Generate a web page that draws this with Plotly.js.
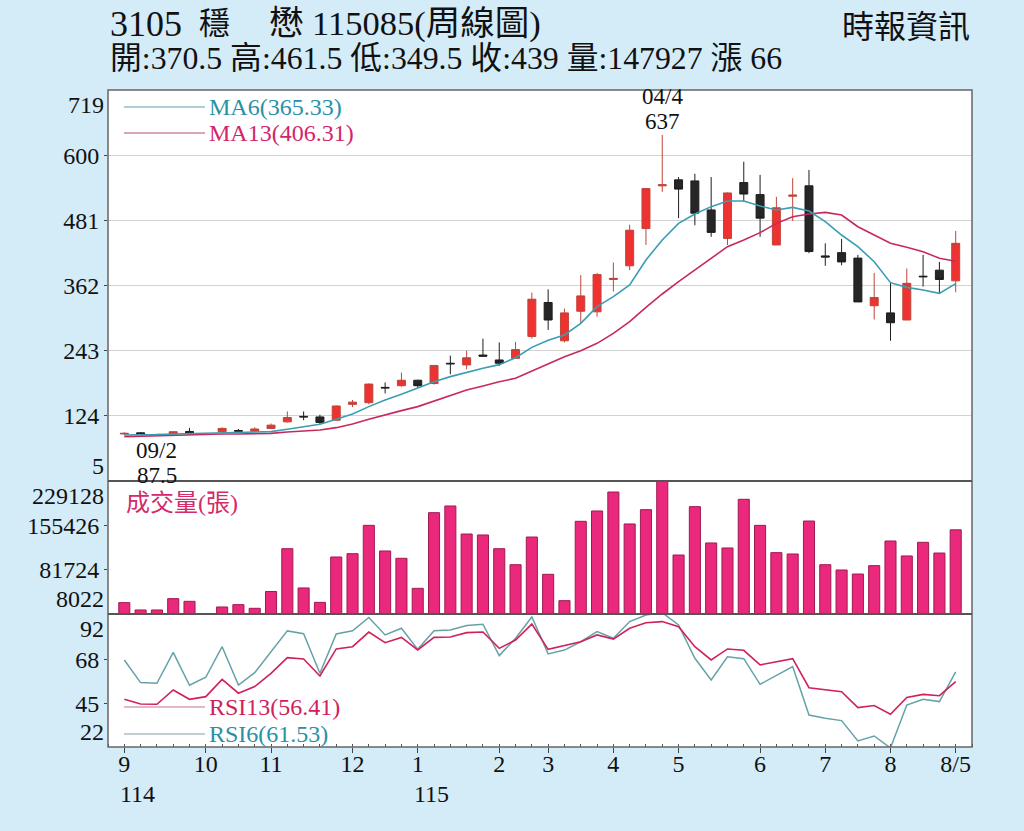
<!DOCTYPE html>
<html>
<head>
<meta charset="utf-8">
<script src="https://cdn.plot.ly/plotly-3.0.1.min.js"></script>
<style>
  html, body { margin: 0; padding: 0; background: #d4ebf8; }
  #chart { width: 1024px; height: 831px; }
</style>
</head>
<body>
<div id="chart"></div>
<script>
// ---------- header texts ----------
const titleCode = "3105";
const titleName1 = "穩";
const titleName2 = "懋 115085(周線圖)";
const titleQuote = "開:370.5 高:461.5 低:349.5 收:439 量:147927 漲 66";
const sourceText = "時報資訊";

// ---------- weekly OHLC (index 0 = first week of 114/9) ----------
const openP  = [91,93,90,91,95.5,null,95,97,96,101,113,123,122,116,145,148,176,179,189,183,220,217,235,226,229,269,331,261,315,314,373,398,466,544,555,553,500,448,550,528,436,525,544,416,422,412,325,312,299,379,390,370.5];
const highP  = [94,94,91,96,102,null,103,100,103,110,132,132,126,143,153,183,185,203,190,217,234,243,265,258,259,349,355,320,381,385,404,473,540,637,560,566,560,532,588,564,524,558,573,439,447,418,385,367,393,418,405,461.5];
const lowP   = [89,89,87.5,90,90,null,94,94,95,100,112,116,109,115,140,145,165,177,175,181,200,209,232,215,228,265,281,258,293,305,351,390,436,533,485,472,451,436,515,451,436,480,421,398,399,332,300,261,299,360,348,349.5];
const closeP = [92,90,89.5,95,91.5,null,101,96,100,107,121,122,112,142,149,182,175,189,179,216,219,230,233,220,245,337,299,312,343,382,375,463,539,546,538,494,459,531,529,485,504,527,424,414,405,332,340,294,366,378,373,439];

// ---------- moving averages ----------
const ma6  = [89,89,89.6,90.9,91.5,92,92.7,92.7,93.3,95.1,99.4,104.3,108.5,117.6,127.4,140.8,153,163.3,174.3,186.4,195.6,203.5,210.8,217.5,230,249,262,271.6,293,323.4,341.6,362.9,408.6,445.1,475.5,492.6,506,516.3,516.3,507.2,499.9,504.7,498,478.6,454.2,432.9,405.5,367.2,358.6,353.8,347.7,365.33];
const ma13 = [86,87,87.8,88.4,89.6,90.2,90.9,90.9,91.5,92,94.5,96.3,98.2,102.4,109.1,117.6,126.2,133.5,140.8,151.1,162.1,171.2,178.5,186.4,192.5,206,220,232,243,256.4,274.6,296,322.1,346.5,369,390.3,411.6,432.9,445.1,458.5,475.5,487.7,492.6,495.6,490.7,469.4,454.2,439,431.7,423.8,411.6,406.31];

// ---------- volume (張) ----------
const volume = [26900,14700,14700,33500,29100,0,19700,23600,17500,45400,116600,51300,27400,102800,108300,155400,112800,100600,50700,176500,187600,141000,139400,116600,90000,136000,74000,30200,162100,179300,210800,157700,181500,229128,106100,186500,126100,117800,198700,155400,110000,107800,162600,90000,81200,74500,88400,129400,104500,127200,109400,147927];

// ---------- RSI ----------
const rsi6  = [67.8,55.9,55.5,71.8,54.5,58.7,74.8,54.6,61.1,72.2,83.1,81.6,60.8,81.5,83.2,90.2,81,84.5,73.4,83.2,83.6,85.9,86.6,70.1,79.2,90.4,71,73,77.4,82.7,79.2,88,91.5,92.7,86.2,68.7,57.3,69.5,68.5,55,59.7,64.3,38.8,37.1,35.9,25.2,27.8,21.5,44.1,47.1,45.9,61.53];
const rsi13 = [47.1,44.6,44.5,52,47.1,48.5,57.6,50.3,53.8,60.8,69,68.3,59.4,73.6,74.8,82.5,76.9,79.7,73.1,79.7,79.9,82.2,82.5,73.9,78.3,86.7,73.4,75.2,77.4,81,78.8,84.5,87.4,88,85.3,74.8,67.8,73.6,72.9,65.2,66.9,68.5,53.2,52,51.1,42.7,43.8,39.2,48.1,49.7,49,56.41];

// ---------- axis labels ----------
const monthTickIdx = [0,5,9,14,18,23,26,30,34,39,43,47,51];
const monthLabels  = ["9","10","11","12","1","2","3","4","5","6","7","8","8/5"];
const yearLabels   = [{idx:0, text:"114"}, {idx:18, text:"115"}];
const priceTicks  = [719,600,481,362,243,124,5];
const volumeTicks = [229128,155426,81724,8022];
const rsiTicks    = [92,68,45,22];

// ---------- legend texts & markers ----------
const maLegend  = ["MA6(365.33)","MA13(406.31)"];
const rsiLegend = ["RSI13(56.41)","RSI6(61.53)"];
const volTitle  = "成交量(張)";
const highMark = {idx:33, date:"04/4", value:637};
const lowMark  = {idx:2,  date:"09/2", value:87.5};

const weekIdx = openP.map((_, i) => i);

// ---------- colours ----------
const C_MA6 = "#3a9db2", C_MA13 = "#c8285e";
const C_MA6T = "#2a90a8", C_MA13T = "#d2266a";
const C_RSI6 = "#65a2a8", C_RSI13 = "#d0215c";
const C_VOL = "#ea287c";

const FONT = "'Liberation Serif', 'Noto Sans CJK TC', serif";

const traces = [
  {
    type: "candlestick", x: weekIdx, open: openP, high: highP, low: lowP, close: closeP,
    xaxis: "x", yaxis: "y",
    increasing: {line: {color: "#c0443a", width: 1}, fillcolor: "#ee3232"},
    decreasing: {line: {color: "#1e1e1e", width: 1}, fillcolor: "#262626"},
    whiskerwidth: 0, hoverinfo: "skip", showlegend: false
  },
  {type: "scatter", mode: "lines", x: weekIdx, y: ma13, xaxis: "x", yaxis: "y",
   line: {color: C_MA13, width: 1.6}, hoverinfo: "skip", showlegend: false},
  {type: "scatter", mode: "lines", x: weekIdx, y: ma6, xaxis: "x", yaxis: "y",
   line: {color: C_MA6, width: 1.6}, hoverinfo: "skip", showlegend: false},
  {type: "bar", x: weekIdx, y: volume, xaxis: "x", yaxis: "y2",
   marker: {color: C_VOL, line: {color: "#a01a52", width: 1}}, hoverinfo: "skip", showlegend: false},
  {type: "scatter", mode: "lines", x: weekIdx, y: rsi6, xaxis: "x", yaxis: "y3",
   line: {color: C_RSI6, width: 1.5}, hoverinfo: "skip", showlegend: false},
  {type: "scatter", mode: "lines", x: weekIdx, y: rsi13, xaxis: "x", yaxis: "y3",
   line: {color: C_RSI13, width: 1.6}, hoverinfo: "skip", showlegend: false}
];

// panel boundaries (paper units of the plot area)
const D_RSI = [0, 0.20244];
const D_VOL = [0.20244, 0.40487];
const D_PRICE = [0.40487, 1];

const tickFont = {family: FONT, size: 24, color: "#111"};
const markFont = {family: FONT, size: 23, color: "#111"};
const inner = arr => arr.slice(1, arr.length - 1);

const yBase = {
  ticks: "outside", ticklen: 3, tickcolor: "#444", tickfont: tickFont,
  zeroline: false, showline: false, fixedrange: true
};

const annotations = [];
function endLabels(ticks, yref) {
  annotations.push({xref: "paper", yref: yref, x: 0, y: ticks[0], xanchor: "right", yanchor: "top",
    xshift: -2, text: String(ticks[0]), showarrow: false, font: tickFont});
  annotations.push({xref: "paper", yref: yref, x: 0, y: ticks[ticks.length-1], xanchor: "right", yanchor: "bottom",
    xshift: -2, text: String(ticks[ticks.length-1]), showarrow: false, font: tickFont});
}
endLabels(priceTicks, "y");
endLabels(volumeTicks, "y2");
endLabels(rsiTicks, "y3");

// header
annotations.push({xref: "paper", yref: "paper", x: 0, y: 1.1005, xanchor: "left", yanchor: "middle", text: titleCode, showarrow: false, font: {family: FONT, size: 36, color: "#111"}});
annotations.push({xref: "paper", yref: "paper", x: 0.103, y: 1.1005, xanchor: "left", yanchor: "middle", text: titleName1, showarrow: false, font: {family: FONT, size: 31, color: "#111"}});
annotations.push({xref: "paper", yref: "paper", x: 0.184, y: 1.1005, xanchor: "left", yanchor: "middle", text: titleName2, showarrow: false, font: {family: FONT, size: 34.5, color: "#111"}});
annotations.push({xref: "paper", yref: "paper", x: 0, y: 1.0487, xanchor: "left", yanchor: "middle", text: titleQuote, showarrow: false, font: {family: FONT, size: 31.8, color: "#111"}});
annotations.push({xref: "paper", yref: "paper", x: 1, y: 1.0959, xanchor: "right", yanchor: "middle", text: sourceText, showarrow: false, font: {family: FONT, size: 32, color: "#111"}});

// legends
const legFont = (c) => ({family: FONT, size: 24, color: c});
const legX = 0.1142;
annotations.push({xref: "paper", yref: "paper", x: legX, y: 0.9741, xanchor: "left", yanchor: "middle", text: maLegend[0], showarrow: false, font: legFont(C_MA6T)});
annotations.push({xref: "paper", yref: "paper", x: legX, y: 0.9346, xanchor: "left", yanchor: "middle", text: maLegend[1], showarrow: false, font: legFont(C_MA13T)});
annotations.push({xref: "paper", yref: "paper", x: legX, y: 0.0609, xanchor: "left", yanchor: "middle", text: rsiLegend[0], showarrow: false, font: legFont(C_RSI13)});
annotations.push({xref: "paper", yref: "paper", x: legX, y: 0.0198, xanchor: "left", yanchor: "middle", text: rsiLegend[1], showarrow: false, font: legFont(C_MA6T)});
annotations.push({xref: "paper", yref: "paper", x: 0.0185, y: 0.371, xanchor: "left", yanchor: "middle", text: volTitle, showarrow: false, font: {family: FONT, size: 24, color: "#d42a6a"}});

// high / low markers
annotations.push({xref: "x", yref: "y", x: highMark.idx, y: highMark.value, xanchor: "center", yanchor: "bottom", yshift: -1, text: String(highMark.value), showarrow: false, font: markFont});
annotations.push({xref: "x", yref: "y", x: highMark.idx, y: highMark.value, xanchor: "center", yanchor: "bottom", yshift: 24, text: highMark.date, showarrow: false, font: markFont});
annotations.push({xref: "x", yref: "y", x: lowMark.idx, y: lowMark.value, xanchor: "center", yanchor: "top", yshift: 0, text: lowMark.date, showarrow: false, font: markFont});
annotations.push({xref: "x", yref: "y", x: lowMark.idx, y: lowMark.value, xanchor: "center", yanchor: "top", yshift: -25, text: String(lowMark.value), showarrow: false, font: markFont});

// year labels under months
yearLabels.forEach(yl => annotations.push({xref: "x", yref: "paper", x: yl.idx, y: 0, xanchor: "left", yanchor: "middle",
  xshift: -6, yshift: -47, text: yl.text, showarrow: false, font: tickFont}));

const lineShape = (x0, x1, y, color) => ({type: "line", xref: "paper", yref: "paper", x0: x0, x1: x1, y0: y, y1: y, line: {color: color, width: 1.5}});
const shapes = [
  {type: "rect", xref: "paper", yref: "paper", x0: 0, x1: 1, y0: 0, y1: 1, line: {color: "#666", width: 1.5}, fillcolor: "rgba(0,0,0,0)", layer: "above"},
  {type: "line", xref: "paper", yref: "paper", x0: 0, x1: 1, y0: D_VOL[1], y1: D_VOL[1], line: {color: "#555", width: 2}, layer: "above"},
  {type: "line", xref: "paper", yref: "paper", x0: 0, x1: 1, y0: D_VOL[0], y1: D_VOL[0], line: {color: "#555", width: 2}, layer: "above"},
  lineShape(0.0185, 0.1123, 0.9741, "#8fbfc6"),
  lineShape(0.0185, 0.1123, 0.9346, "#c98aa0"),
  lineShape(0.0185, 0.1123, 0.0609, "#dba0b4"),
  lineShape(0.0185, 0.1123, 0.0198, "#a9bfc2")
];

const layout = {
  width: 1024, height: 831,
  margin: {l: 108, r: 52, t: 90, b: 84, pad: 0},
  paper_bgcolor: "#d4ebf8",
  plot_bgcolor: "#ffffff",
  font: {family: FONT, size: 24, color: "#111"},
  showlegend: false,
  bargap: 0.32,
  hovermode: false,
  xaxis: {
    anchor: "y3", range: [-1, 52], fixedrange: true,
    tickmode: "array", tickvals: monthTickIdx, ticktext: monthLabels,
    ticks: "outside", ticklen: 5, tickcolor: "#444", tickfont: tickFont,
    ticklabelstandoff: -10,
    minor: {tick0: 0, dtick: 1, ticks: "inside", ticklen: 3, tickcolor: "#555", showgrid: false},
    showgrid: false, zeroline: false, showline: false,
    rangeslider: {visible: false}
  },
  yaxis: Object.assign({}, yBase, {
    domain: D_PRICE, range: [priceTicks[priceTicks.length-1], priceTicks[0]],
    tickmode: "array", tickvals: inner(priceTicks), ticktext: inner(priceTicks).map(String),
    showgrid: true, gridcolor: "#d2d2d2", gridwidth: 1
  }),
  yaxis2: Object.assign({}, yBase, {
    domain: D_VOL, range: [volumeTicks[volumeTicks.length-1], volumeTicks[0]],
    tickmode: "array", tickvals: inner(volumeTicks), ticktext: inner(volumeTicks).map(String),
    showgrid: false
  }),
  yaxis3: Object.assign({}, yBase, {
    domain: D_RSI, range: [rsiTicks[rsiTicks.length-1], rsiTicks[0]],
    tickmode: "array", tickvals: inner(rsiTicks), ticktext: inner(rsiTicks).map(String),
    showgrid: false
  }),
  annotations: annotations,
  shapes: shapes
};

Plotly.newPlot("chart", traces, layout, {displayModeBar: false, staticPlot: true});
</script>
</body>
</html>
